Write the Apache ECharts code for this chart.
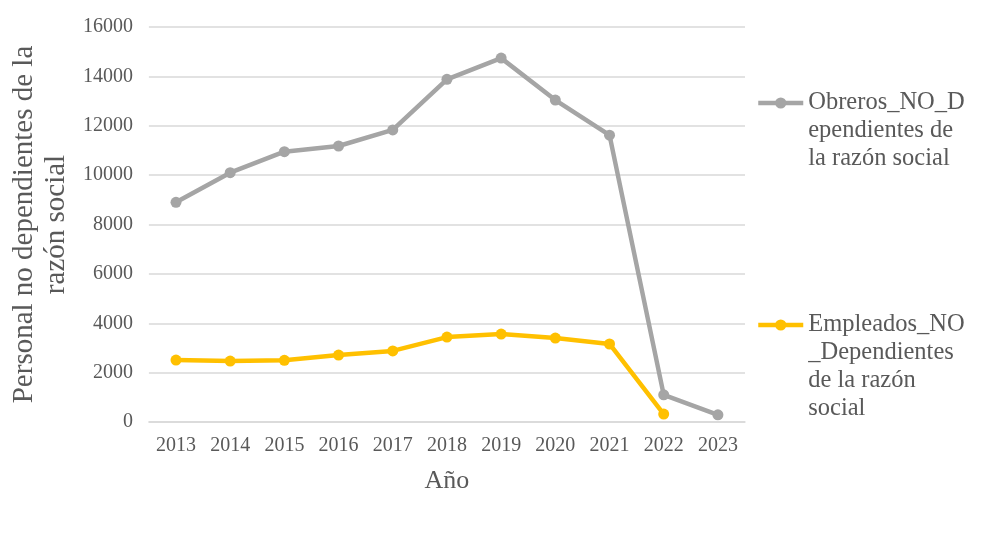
<!DOCTYPE html>
<html><head><meta charset="utf-8">
<script src="https://cdn.jsdelivr.net/npm/echarts@6/dist/echarts.min.js"></script>
<style>html,body{margin:0;padding:0;background:#fff}#c{width:984px;height:533px}</style>
</head><body><div id="c"></div>
<script>
const years = ['2013','2014','2015','2016','2017','2018','2019','2020','2021','2022','2023'];
const obreros = [8900, 10100, 10950, 11180, 11830, 13880, 14740, 13040, 11620, 1100, 290];
const empleados = [2510, 2470, 2500, 2710, 2880, 3440, 3560, 3400, 3160, 320, null];
const yTicks = [0, 2000, 4000, 6000, 8000, 10000, 12000, 14000, 16000];
const nameObreros = 'Obreros_NO_Dependientes de la razón social';
const nameEmpleados = 'Empleados_NO_Dependientes de la razón social';

const FONT = '"Liberation Serif","Times New Roman",serif';
const TXT = '#595959';
const chart = echarts.init(document.getElementById('c'));
const L = 28;
chart.setOption({
  animation: false,
  grid: {left: 148, right: 239, top: 27, bottom: 111, containLabel: false},
  legend: [
    {data: [nameObreros], orient: 'vertical', left: 756, top: 103 - 2.5 * L, padding: 0,
     itemWidth: 45, itemHeight: 14, lineStyle: {width: 4.5},
     formatter: () => '\n\nObreros_NO_D\nependientes de\nla razón social',
     textStyle: {fontFamily: FONT, fontSize: 24.5, color: TXT, lineHeight: L}},
    {data: [nameEmpleados], orient: 'vertical', left: 756, top: 325 - 3.5 * L, padding: 0,
     itemWidth: 45, itemHeight: 14, lineStyle: {width: 4.5},
     formatter: () => '\n\n\nEmpleados_NO\n_Dependientes\nde la razón\nsocial',
     textStyle: {fontFamily: FONT, fontSize: 24.5, color: TXT, lineHeight: L}}
  ],
  xAxis: {
    type: 'category', data: years, boundaryGap: true,
    name: 'Año', nameLocation: 'middle', nameGap: 46,
    nameTextStyle: {fontFamily: FONT, fontSize: 26, color: TXT},
    axisLine: {show: true, lineStyle: {color: '#D9D9D9', width: 1.5}},
    axisTick: {show: false},
    axisLabel: {fontFamily: FONT, fontSize: 20, color: TXT, margin: 14}
  },
  yAxis: {
    type: 'value', min: 0, max: 16000, interval: 2000,
    name: 'Personal no dependientes de la\nrazón social', nameLocation: 'middle', nameGap: 71, nameRotate: 90,
    nameTextStyle: {fontFamily: FONT, fontSize: 29, color: TXT, lineHeight: 32},
    axisLine: {show: false}, axisTick: {show: false},
    splitLine: {lineStyle: {color: '#D9D9D9', width: 1.5}},
    axisLabel: {fontFamily: FONT, fontSize: 20, color: TXT, margin: 16,
      formatter: v => yTicks.includes(v) ? String(v) : ''}
  },
  series: [
    {name: nameObreros, type: 'line', data: obreros, symbol: 'circle', symbolSize: 11,
     lineStyle: {color: '#A5A5A5', width: 4.5}, itemStyle: {color: '#A5A5A5'}},
    {name: nameEmpleados, type: 'line', data: empleados, symbol: 'circle', symbolSize: 11,
     lineStyle: {color: '#FFC000', width: 4.5}, itemStyle: {color: '#FFC000'}}
  ]
});
</script></body></html>
